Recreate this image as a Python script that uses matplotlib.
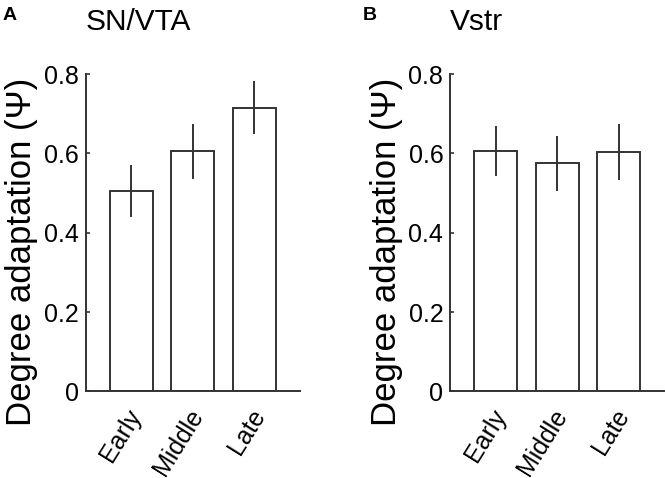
import numpy as np
import matplotlib
matplotlib.use("Agg")
import matplotlib.pyplot as plt

plt.rcParams['font.family'] = ['Liberation Sans', 'DejaVu Sans']

# data
phases = ["Early", "Middle", "Late"]
snvta_mean = [0.505, 0.605, 0.715]
snvta_err = [0.066, 0.069, 0.067]
vstr_mean = [0.606, 0.575, 0.604]
vstr_err = [0.064, 0.069, 0.070]
yticks = [0, 0.2, 0.4, 0.6, 0.8]
ytick_labels = ["0", "0.2", "0.4", "0.6", "0.8"]

edge = '#333333'

fig = plt.figure(figsize=(6.65, 4.78), dpi=100)

# letter, title, means, errors, axes left, letter x
panels = [
    ("A", "SN/VTA", snvta_mean, snvta_err, 0.129, 0.004),
    ("B", "Vstr", vstr_mean, vstr_err, 0.677, 0.546),
]

for letter, title, mean, err, left, lx in panels:
    ax = fig.add_axes([left, 0.181, 0.322, 0.664])
    x = np.arange(1, len(phases) + 1)
    ax.bar(x, mean, width=0.7, color='white', edgecolor=edge, linewidth=1.4, zorder=2)
    ax.errorbar(x, mean, yerr=err, fmt='none', ecolor=edge, elinewidth=1.4,
                capsize=0, zorder=3)
    ax.set_xlim(0.26, 3.74)
    ax.set_ylim(0, 0.8)
    ax.set_yticks(yticks)
    ax.set_yticklabels(ytick_labels)
    ax.set_xticks(x)
    ax.set_xticklabels([])
    # rotated category labels, nudged a bit right of the bar centre
    for xi, name in zip(x, phases):
        ax.annotate(name, xy=(xi, 0), xycoords=('data', 'axes fraction'),
                    xytext=(3.6, -14), textcoords='offset points',
                    rotation=58, ha='right', va='center',
                    rotation_mode='anchor', fontsize=18, annotation_clip=False)
    ax.tick_params(axis='y', direction='in', length=3, width=1.2, color=edge,
                   labelsize=18, pad=5)
    ax.tick_params(axis='x', length=0)
    for s in ['top', 'right']:
        ax.spines[s].set_visible(False)
    for s in ['left', 'bottom']:
        ax.spines[s].set_color(edge)
        ax.spines[s].set_linewidth(1.4)
    ax.set_ylabel("Degree adaptation (Ψ)", fontsize=25, labelpad=4, y=0.44)
    ax.set_title(title, fontsize=21.5, loc='left', pad=0, x=0.0, y=1.14)
    fig.text(lx, 0.968, letter, fontsize=14, fontweight='bold',
             ha='left', va='center')

fig.savefig("out.png", dpi=100)
